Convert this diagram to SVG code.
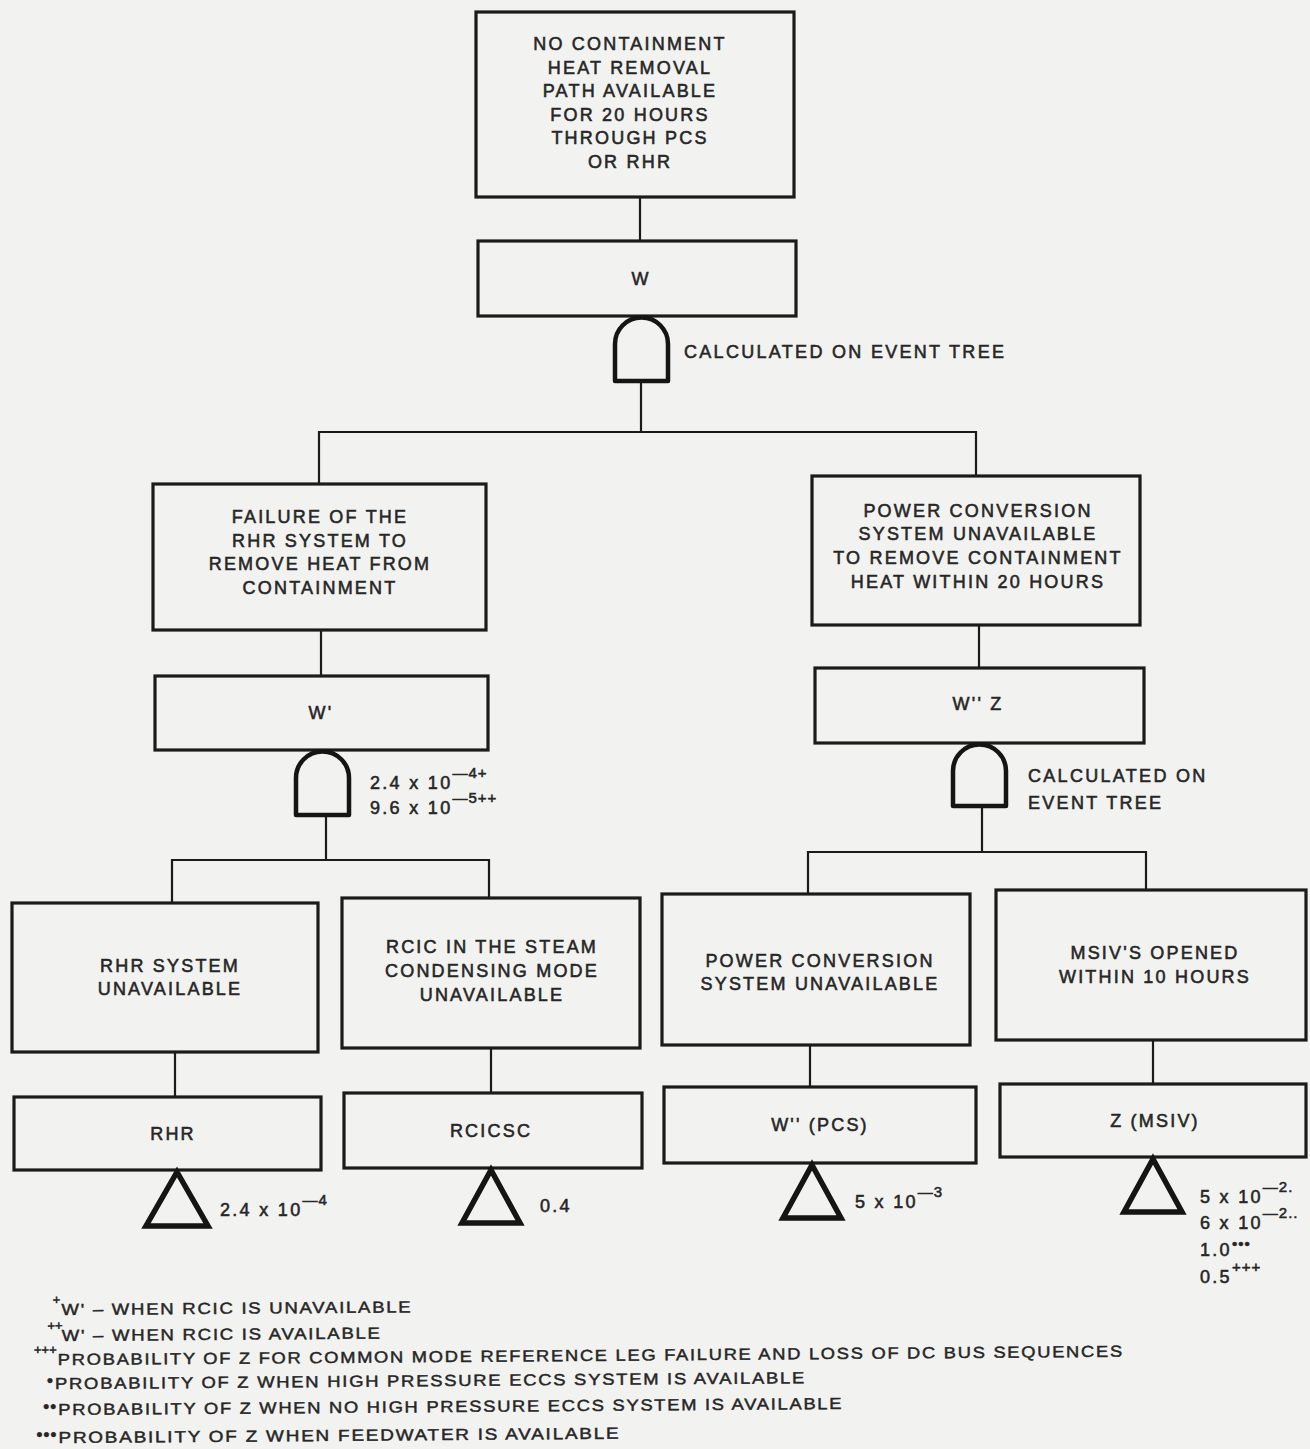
<svg xmlns="http://www.w3.org/2000/svg" width="1310" height="1449" viewBox="0 0 1310 1449">
  <style>
    .box { fill: none; stroke: #1b1b1b; stroke-width: 3.2; }
    .wire { fill: none; stroke: #1b1b1b; stroke-width: 2.2; }
    .gate { fill: none; stroke: #151515; stroke-width: 4.5; stroke-linejoin: round; }
    .tri { fill: none; stroke: #151515; stroke-width: 5.5; stroke-linejoin: miter; }
    text { font-family: "Liberation Sans", Arial, sans-serif; fill: #262626; stroke: #262626; stroke-width: 0.55; }
    .lbl { font-size: 18px; letter-spacing: 2.2px; text-anchor: middle; }
    .num { font-size: 18px; letter-spacing: 2.3px; }
    .sup { font-size: 15px; letter-spacing: 1px; }
    .note { font-size: 16px; letter-spacing: 1.5px; stroke-width: 0.45; }
    .mark { font-size: 13px; text-anchor: end; }
    .dot { font-size: 17px; letter-spacing: 1px; text-anchor: end; }
  </style>
  <rect width="1310" height="1449" fill="#f2f2f0"/>

  <!-- connectors -->
  <g id="connectors">
    <line class="wire" x1="640" y1="197" x2="640" y2="241"/>
    <line class="wire" x1="641" y1="381" x2="641" y2="432"/>
    <polyline class="wire" points="319,484 319,432 976,432 976,476"/>
    <line class="wire" x1="321" y1="630" x2="321" y2="676"/>
    <line class="wire" x1="979" y1="625" x2="979" y2="668"/>
    <line class="wire" x1="326" y1="815" x2="326" y2="860"/>
    <polyline class="wire" points="172,903 172,860 489,860 489,898"/>
    <line class="wire" x1="982" y1="806" x2="982" y2="852"/>
    <polyline class="wire" points="808,894 808,852 1146,852 1146,890"/>
    <line class="wire" x1="175" y1="1052" x2="175" y2="1097"/>
    <line class="wire" x1="491" y1="1048" x2="491" y2="1093"/>
    <line class="wire" x1="810" y1="1045" x2="810" y2="1087"/>
    <line class="wire" x1="1153" y1="1040" x2="1153" y2="1084"/>
  </g>

  <!-- top event -->
  <g id="top">
    <rect class="box" x="476" y="12" width="318" height="185"/>
    <text class="lbl" x="630"><tspan x="630" y="50">NO CONTAINMENT</tspan><tspan x="630" y="74">HEAT REMOVAL</tspan><tspan x="630" y="97">PATH AVAILABLE</tspan><tspan x="630" y="121">FOR 20 HOURS</tspan><tspan x="630" y="144">THROUGH PCS</tspan><tspan x="630" y="168">OR RHR</tspan></text>
  </g>
  <g id="w">
    <rect class="box" x="478" y="241" width="318" height="75"/>
    <text class="lbl" x="641" y="285">W</text>
  </g>
  <g id="gate-w">
    <path class="gate" d="M615,381 V344 A26.5,26.5 0 0 1 668,344 V381 Z"/>
    <text class="num" x="684" y="358">CALCULATED ON EVENT TREE</text>
  </g>

  <!-- RHR branch -->
  <g id="rhr-fail">
    <rect class="box" x="153" y="484" width="333" height="146"/>
    <text class="lbl"><tspan x="320" y="523">FAILURE OF THE</tspan><tspan x="320" y="547">RHR SYSTEM TO</tspan><tspan x="320" y="570">REMOVE HEAT FROM</tspan><tspan x="320" y="594">CONTAINMENT</tspan></text>
  </g>
  <g id="w-prime">
    <rect class="box" x="155" y="676" width="333" height="74"/>
    <text class="lbl" x="321" y="719">W'</text>
  </g>
  <g id="gate-w-prime">
    <path class="gate" d="M296,815 V778 A26.5,26.5 0 0 1 349,778 V815 Z"/>
    <text class="num" x="370" y="789">2.4 x 10<tspan class="sup" dy="-11">—4+</tspan></text>
    <text class="num" x="370" y="814">9.6 x 10<tspan class="sup" dy="-11">—5++</tspan></text>
  </g>

  <!-- PCS branch -->
  <g id="pcs-fail">
    <rect class="box" x="812" y="476" width="328" height="149"/>
    <text class="lbl"><tspan x="978" y="517">POWER CONVERSION</tspan><tspan x="978" y="540">SYSTEM UNAVAILABLE</tspan><tspan x="978" y="564">TO REMOVE CONTAINMENT</tspan><tspan x="978" y="588">HEAT WITHIN 20 HOURS</tspan></text>
  </g>
  <g id="w2-z">
    <rect class="box" x="815" y="668" width="329" height="75"/>
    <text class="lbl" x="978" y="710">W'' Z</text>
  </g>
  <g id="gate-w2-z">
    <path class="gate" d="M953,806 V771 A26.5,26.5 0 0 1 1006,771 V806 Z"/>
    <text class="num"><tspan x="1028" y="782">CALCULATED ON</tspan><tspan x="1028" y="809">EVENT TREE</tspan></text>
  </g>

  <!-- basic events -->
  <g id="rhr-sys">
    <rect class="box" x="12" y="903" width="306" height="149"/>
    <text class="lbl"><tspan x="170" y="972">RHR SYSTEM</tspan><tspan x="170" y="995">UNAVAILABLE</tspan></text>
  </g>
  <g id="rhr">
    <rect class="box" x="14" y="1097" width="307" height="73"/>
    <text class="lbl" x="173" y="1140">RHR</text>
    <polygon class="tri" points="177,1172 208,1226 146,1226"/>
    <text class="num" x="220" y="1216">2.4 x 10<tspan class="sup" dy="-11">—4</tspan></text>
  </g>

  <g id="rcic-sc">
    <rect class="box" x="342" y="898" width="298" height="150"/>
    <text class="lbl"><tspan x="492" y="953">RCIC IN THE STEAM</tspan><tspan x="492" y="977">CONDENSING MODE</tspan><tspan x="492" y="1001">UNAVAILABLE</tspan></text>
  </g>
  <g id="rcicsc">
    <rect class="box" x="344" y="1093" width="298" height="75"/>
    <text class="lbl" x="491" y="1137">RCICSC</text>
    <polygon class="tri" points="491,1170 520,1223 462,1223"/>
    <text class="num" x="540" y="1212">0.4</text>
  </g>

  <g id="pcs-sys">
    <rect class="box" x="662" y="894" width="308" height="151"/>
    <text class="lbl"><tspan x="820" y="967">POWER CONVERSION</tspan><tspan x="820" y="990">SYSTEM UNAVAILABLE</tspan></text>
  </g>
  <g id="w2-pcs">
    <rect class="box" x="664" y="1087" width="312" height="76"/>
    <text class="lbl" x="820" y="1131">W'' (PCS)</text>
    <polygon class="tri" points="812,1165 841,1218 783,1218"/>
    <text class="num" x="855" y="1208">5 x 10<tspan class="sup" dy="-11">—3</tspan></text>
  </g>

  <g id="msiv-open">
    <rect class="box" x="996" y="890" width="310" height="150"/>
    <text class="lbl"><tspan x="1155" y="959">MSIV'S OPENED</tspan><tspan x="1155" y="983">WITHIN 10 HOURS</tspan></text>
  </g>
  <g id="z-msiv">
    <rect class="box" x="1000" y="1084" width="306" height="73"/>
    <text class="lbl" x="1155" y="1127">Z (MSIV)</text>
    <polygon class="tri" points="1153,1159 1182,1212 1124,1212"/>
    <text class="num" x="1200" y="1203">5 x 10<tspan class="sup" dy="-11">—2.</tspan></text>
    <text class="num" x="1200" y="1229">6 x 10<tspan class="sup" dy="-11">—2..</tspan></text>
    <text class="num" x="1200" y="1256">1.0<tspan class="sup" dy="-7">•••</tspan></text>
    <text class="num" x="1200" y="1283">0.5<tspan class="sup" dy="-11">+++</tspan></text>
  </g>

  <!-- notes, printed on a slight slant -->
  <g id="notes" transform="rotate(-0.45 580 1380)">
    <text class="mark" x="61" y="1300">+</text>
    <text class="note" x="62" y="1311" textLength="351" lengthAdjust="spacingAndGlyphs">W' – WHEN RCIC IS UNAVAILABLE</text>
    <text class="mark" x="63" y="1326">++</text>
    <text class="note" x="62" y="1337" textLength="320" lengthAdjust="spacingAndGlyphs">W' – WHEN RCIC IS AVAILABLE</text>
    <text class="mark" x="57" y="1350">+++</text>
    <text class="note" x="58" y="1361" textLength="1066" lengthAdjust="spacingAndGlyphs">PROBABILITY OF Z FOR COMMON MODE REFERENCE LEG FAILURE AND LOSS OF DC BUS SEQUENCES</text>
    <text class="dot" x="54" y="1382">•</text>
    <text class="note" x="55" y="1385" textLength="751" lengthAdjust="spacingAndGlyphs">PROBABILITY OF Z WHEN HIGH PRESSURE ECCS SYSTEM IS AVAILABLE</text>
    <text class="dot" x="57" y="1408">••</text>
    <text class="note" x="58" y="1411" textLength="785" lengthAdjust="spacingAndGlyphs">PROBABILITY OF Z WHEN NO HIGH PRESSURE ECCS SYSTEM IS AVAILABLE</text>
    <text class="dot" x="57" y="1436">•••</text>
    <text class="note" x="58" y="1439" textLength="562" lengthAdjust="spacingAndGlyphs">PROBABILITY OF Z WHEN FEEDWATER IS AVAILABLE</text>
  </g>
</svg>
